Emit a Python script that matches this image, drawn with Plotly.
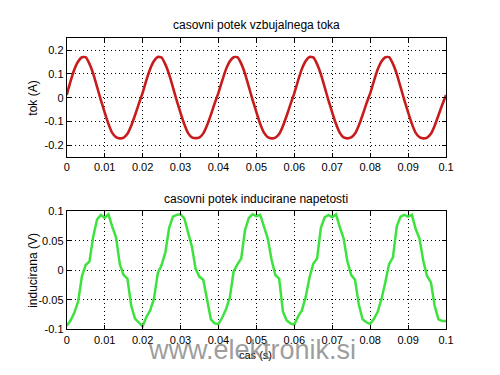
import numpy as np
import plotly.graph_objects as go

# time samples (s)
t = np.round(np.arange(0, 0.1005, 0.001), 3)

# excitation current (A), every 1 ms
tok = [
    0.012, 0.068, 0.118, 0.152, 0.170, 0.170, 0.142, 0.100, 0.045, -0.010,
    -0.062, -0.110, -0.148, -0.166, -0.171, -0.168, -0.152, -0.118, -0.074, -0.026,
    0.020, 0.074, 0.121, 0.154, 0.171, 0.169, 0.140, 0.098, 0.043, -0.012,
    -0.064, -0.112, -0.149, -0.167, -0.170, -0.167, -0.150, -0.116, -0.072, -0.024,
    0.020, 0.072, 0.120, 0.153, 0.170, 0.170, 0.143, 0.101, 0.046, -0.009,
    -0.061, -0.110, -0.147, -0.166, -0.171, -0.168, -0.153, -0.119, -0.075, -0.027,
    0.019, 0.073, 0.121, 0.154, 0.171, 0.169, 0.141, 0.099, 0.044, -0.011,
    -0.063, -0.111, -0.148, -0.167, -0.171, -0.167, -0.151, -0.117, -0.073, -0.025,
    0.018, 0.071, 0.119, 0.153, 0.170, 0.170, 0.142, 0.100, 0.045, -0.010,
    -0.062, -0.110, -0.148, -0.166, -0.171, -0.168, -0.152, -0.118, -0.074, -0.030,
    0.011,
]

# induced voltage (V), every 1 ms
napetost = [
    -0.094, -0.085, -0.072, -0.053, -0.010, 0.009, 0.015, 0.058, 0.086, 0.094,
    0.089, 0.095, 0.074, 0.056, 0.010, -0.008, -0.014, -0.060, -0.082, -0.089,
    -0.095, -0.079, -0.068, -0.048, -0.005, 0.009, 0.030, 0.072, 0.091, 0.094,
    0.095, 0.088, 0.064, 0.040, 0.002, -0.011, -0.016, -0.050, -0.083, -0.090,
    -0.091, -0.080, -0.066, -0.046, -0.002, 0.010, 0.020, 0.068, 0.089, 0.095,
    0.092, 0.094, 0.072, 0.054, 0.018, -0.008, -0.014, -0.070, -0.085, -0.090,
    -0.092, -0.078, -0.068, -0.045, -0.012, 0.011, 0.020, 0.072, 0.090, 0.094,
    0.090, 0.095, 0.073, 0.054, 0.015, -0.008, -0.016, -0.058, -0.083, -0.088,
    -0.091, -0.082, -0.070, -0.048, -0.020, 0.011, 0.022, 0.074, 0.091, 0.094,
    0.091, 0.094, 0.070, 0.054, 0.016, -0.010, -0.020, -0.060, -0.083, -0.086,
    -0.086,
]

x_ticks = [0, 0.01, 0.02, 0.03, 0.04, 0.05, 0.06, 0.07, 0.08, 0.09, 0.1]
x_labels = ["0", "0.01", "0.02", "0.03", "0.04", "0.05", "0.06", "0.07", "0.08", "0.09", "0.1"]
y1_ticks = [-0.2, -0.1, 0, 0.1, 0.2]
y1_labels = ["-0.2", "-0.1", "0", "0.1", "0.2"]
y2_ticks = [-0.1, -0.05, 0, 0.05, 0.1]
y2_labels = ["-0.1", "-0.05", "0", "0.05", "0.1"]

title_top = "casovni potek vzbujalnega toka"
title_bottom = "casovni potek inducirane napetosti"
ylabel_top = "tok (A)"
ylabel_bottom = "inducirana (V)"
xlabel = "cas (s)"
watermark = "www.elektronik.si"

FONT = "Liberation Sans, Arial, sans-serif"

# the page body adds an 8px margin; the figure is sized to fit the window
OFF = 8
W, H = 500 - OFF, 375 - OFF


def px(x):
    return (x - OFF) / W


def py(y):
    return 1 - (y - OFF) / H


fig = go.Figure()
fig.add_trace(go.Scatter(x=t, y=tok, mode="lines",
                         line=dict(color="#c81c1c", width=2.6, shape="spline", smoothing=0.5),
                         xaxis="x", yaxis="y", showlegend=False))
fig.add_trace(go.Scatter(x=t, y=napetost, mode="lines", line=dict(color="#3ee23e", width=2.5),
                         xaxis="x2", yaxis="y2", showlegend=False))

xd = [px(65), px(453)]
axis_common = dict(showline=True, linecolor="black", linewidth=1, mirror="ticks",
                   ticks="inside", ticklen=4, tickcolor="black",
                   showgrid=True, gridcolor="black", gridwidth=1, griddash="1px,3px",
                   zeroline=False, tickfont=dict(family=FONT, size=11, color="black"))

fig.update_layout(
    width=W, height=H,
    margin=dict(l=0, r=0, t=0, b=0),
    paper_bgcolor="white", plot_bgcolor="white",
    font=dict(family=FONT, color="black"),
    xaxis=dict(domain=xd, range=[0, 0.1], tickvals=x_ticks, ticktext=x_labels, anchor="y", **axis_common),
    yaxis=dict(domain=[py(156), py(33)], range=[-0.25, 0.25], tickvals=y1_ticks, ticktext=y1_labels,
               anchor="x", **axis_common),
    xaxis2=dict(domain=xd, range=[0, 0.1], tickvals=x_ticks, ticktext=x_labels, anchor="y2", **axis_common),
    yaxis2=dict(domain=[py(334), py(212)], range=[-0.1, 0.1], tickvals=y2_ticks, ticktext=y2_labels,
                anchor="x2", **axis_common),
)

ann = [
    dict(text=title_top, x=px(259), y=py(19), font=dict(size=12)),
    dict(text=title_bottom, x=px(259), y=py(199), font=dict(size=12)),
    dict(text=ylabel_top, x=px(31), y=py(95), textangle=-90, font=dict(size=12)),
    dict(text=ylabel_bottom, x=px(31), y=py(273), textangle=-90, font=dict(size=12)),
    dict(text=xlabel, x=px(258), y=py(361), font=dict(size=11)),
    dict(text=watermark, x=px(255), y=py(355), font=dict(size=27, color="rgba(125,125,125,0.75)")),
]
for a in ann:
    a.update(xref="paper", yref="paper", showarrow=False, xanchor="center", yanchor="middle")
    a["font"]["family"] = FONT
fig.update_layout(annotations=ann)

fig.write_html("out.html")
